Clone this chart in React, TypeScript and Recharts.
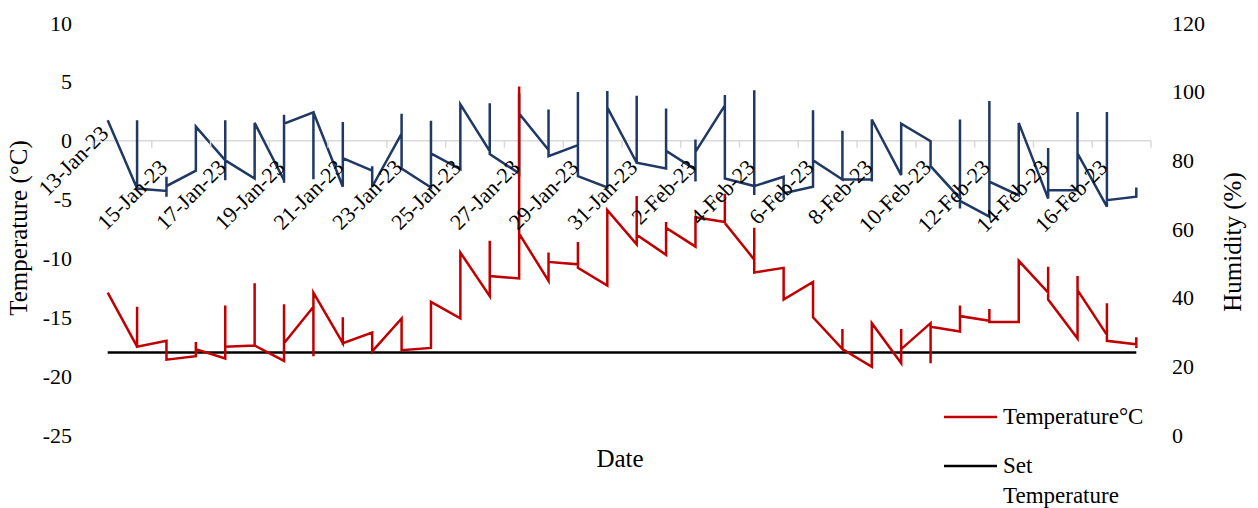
import React from 'react';
import { ComposedChart, Line, XAxis, YAxis, ReferenceLine, Legend } from 'recharts';

const FONT = "'Liberation Serif', 'Times New Roman', serif";

// Category labels (every second day, 13-Jan-23 = day index 0)
const dateLabels = [
  '13-Jan-23', '15-Jan-23', '17-Jan-23', '19-Jan-23', '21-Jan-23', '23-Jan-23',
  '25-Jan-23', '27-Jan-23', '29-Jan-23', '31-Jan-23', '2-Feb-23', '4-Feb-23',
  '6-Feb-23', '8-Feb-23', '10-Feb-23', '12-Feb-23', '14-Feb-23', '16-Feb-23',
];

// Temperature readings (°C) per day (13-Jan-23 .. 17-Feb-23), in reading order
const temperatureReadings: number[][] = [
  [-12.9],
  [-17.5, -14.1, -17.5],
  [-17.0, -18.6],
  [-18.3, -17.1, -17.7],
  [-18.5, -14.0, -17.5],
  [-17.4, -12.1, -17.4],
  [-18.7, -13.9, -17.2],
  [-14.1, -18.3, -12.9],
  [-17.2, -15.0, -17.2],
  [-16.3, -17.9],
  [-15.1, -17.8],
  [-17.6, -13.7],
  [-15.1, -9.5],
  [-13.2, -8.5, -11.5],
  [-11.7, 4.6, -7.9],
  [-11.9, -9.5, -10.3],
  [-10.5, -8.6, -10.8],
  [-12.3, -5.9],
  [-8.8, -4.7, -8.0],
  [-9.7, -6.9, -7.4],
  [-9.0, -6.5],
  [-6.9, -4.5, -7.0],
  [-10.1, -7.4, -11.2],
  [-10.8, -13.5],
  [-12.0, -15.0],
  [-17.7, -16.0, -17.7],
  [-19.2, -15.5],
  [-18.9, -16.0, -17.7],
  [-15.5, -18.9, -15.8],
  [-16.2, -14.0, -14.9],
  [-15.3, -14.3, -15.4],
  [-15.4, -10.2],
  [-12.9, -10.7, -13.5],
  [-16.8, -11.5, -12.7],
  [-16.5, -13.8, -17.0],
  [-17.3, -16.7, -17.6],
];

// Humidity readings (%) per day, in reading order
const humidityReadings: number[][] = [
  [91.7],
  [71.8, 91.7, 71.8],
  [71.1, 75.2, 69.4, 72.5],
  [77, 89.8],
  [80, 91.7, 74.2, 80],
  [74.7, 90.9],
  [74.2, 73.5, 93.3, 90.7],
  [94, 74.5, 94],
  [72.3, 91.2, 80.6],
  [77, 78.3, 72.3],
  [87.8, 93.6, 77.6],
  [72.1, 91.5, 82],
  [77.4, 96.3],
  [82.7, 96.6, 81.8],
  [76.2, 75.2, 99.5, 93.6],
  [83, 94.8, 81.2],
  [84.4, 99.9, 75.4],
  [72.1, 100.2, 95.4],
  [79.3, 98.8, 79.3],
  [77.6, 95.1, 82.8],
  [77.3, 86.1, 73.8, 82.5],
  [96, 99, 74.7],
  [72.5, 100.4, 69.9, 72.5],
  [75.2, 68.9, 70.4],
  [72.3, 94.6, 80],
  [74.4, 88.6, 74.4],
  [74.4, 73.8, 91.9],
  [75.7, 90.7],
  [85.6, 78.3],
  [68.9, 91.9, 66, 68.2],
  [63.6, 97.3, 73.8],
  [69.8, 90.9],
  [68.9, 83.6, 71.3],
  [71.3, 94.1, 82],
  [66.5, 94.1, 68.4],
  [69.4, 72.1],
];

const setTemperature = -18;
const temperatureTicks = [-25, -20, -15, -10, -5, 0, 5, 10];
const humidityTicks = [0, 20, 40, 60, 80, 100, 120];
const legendOrder = ['Temperature°C', 'Set Temperature'];

// ---- layout ----
const WIDTH = 1258;
const HEIGHT = 508;
const MARGIN_TOP = 23;
const LEFT_AXIS_W = 93;
const RIGHT_AXIS_W = 107;
const X_AXIS_H = 73;
const PLOT_LEFT = LEFT_AXIS_W;
const PLOT_RIGHT = WIDTH - RIGHT_AXIS_W;
const PLOT_TOP = MARGIN_TOP;
const PLOT_BOTTOM = HEIGHT - X_AXIS_H;

const T_MIN = temperatureTicks[0];
const T_MAX = temperatureTicks[temperatureTicks.length - 1];
const X_MIN = -0.5;
const X_MAX = temperatureReadings.length - 0.5;
const zeroY = PLOT_TOP + ((PLOT_BOTTOM - PLOT_TOP) * (T_MAX - 0)) / (T_MAX - T_MIN);
const dayPx = (PLOT_RIGHT - PLOT_LEFT) / (X_MAX - X_MIN);

const xBoundaries = dateLabels.map((_, i) => i * 2 + X_MIN).concat([X_MAX]);

const toPoints = (readings: number[][]) =>
  readings.flatMap((vals, day) => vals.map((value) => ({ day, value })));

const temperaturePoints = toPoints(temperatureReadings);
const humidityPoints = toPoints(humidityReadings);
const setPoints = temperatureReadings.map((_, day) => ({ day, value: setTemperature }));

const textStyle = { fontFamily: FONT };

const DateTick = (props: any) => {
  const { x, payload } = props;
  const idx = Math.round((payload.value - X_MIN) / 2);
  const label = payload.value < X_MAX ? dateLabels[idx] : undefined;
  const lx = x + dayPx / 2 + 2;
  // the first label sits higher, as in the original chart
  const ly = zeroY + (idx === 0 ? -6 : 28);
  return (
    <g>
      <line x1={x} x2={x} y1={zeroY} y2={zeroY + 7} stroke="#D9D9D9" strokeWidth={1.5} />
      {label && (
        <text
          x={lx}
          y={ly}
          textAnchor="end"
          transform={`rotate(-45 ${lx} ${ly})`}
          fontFamily={FONT}
          style={textStyle}
          fontSize={22}
          fill="#000"
        >
          {label}
        </text>
      )}
    </g>
  );
};

const NumTick = (props: any) => {
  const { x, y, payload, textAnchor } = props;
  return (
    <text
      x={x}
      y={y}
      textAnchor={textAnchor}
      dominantBaseline="central"
      fontFamily={FONT}
      style={textStyle}
      fontSize={22}
      fill="#000"
    >
      {payload.value}
    </text>
  );
};

const AxisTitle = (props: any) => {
  const { title, tx, ty, rot } = props;
  return (
    <text
      x={tx}
      y={ty}
      textAnchor="middle"
      dominantBaseline="central"
      transform={rot ? `rotate(${rot} ${tx} ${ty})` : undefined}
      fontFamily={FONT}
      style={textStyle}
      fontSize={25}
      fill="#000"
    >
      {title}
    </text>
  );
};

const renderLegend = (props: any) => {
  const items = [...(props.payload || [])]
    .filter((p: any) => legendOrder.includes(p.value))
    .sort((a: any, b: any) => legendOrder.indexOf(a.value) - legendOrder.indexOf(b.value));
  return (
    <div style={{ fontFamily: FONT, fontSize: 23, color: '#000' }}>
      {items.map((entry: any, i: number) => (
        <div
          key={entry.value}
          style={{ display: 'flex', alignItems: 'flex-start', marginTop: i ? 19 : 0 }}
        >
          <svg width={53} height={30} style={{ flex: 'none' }}>
            <line x1={0} x2={53} y1={15} y2={15} stroke={entry.color} strokeWidth={2.5} />
          </svg>
          <span style={{ marginLeft: 6, width: 148, lineHeight: '30px' }}>{entry.value}</span>
        </div>
      ))}
    </div>
  );
};

export default function App() {
  return (
    <div
      style={{
        position: 'absolute',
        left: 0,
        top: 0,
        width: WIDTH,
        height: HEIGHT,
        background: '#fff',
        fontFamily: FONT,
      }}
    >
      <ComposedChart
        width={WIDTH}
        height={HEIGHT}
        margin={{ top: MARGIN_TOP, right: 0, bottom: 0, left: 0 }}
        style={{ fontFamily: FONT }}
      >
        <XAxis
          dataKey="day"
          type="number"
          xAxisId="x"
          domain={[X_MIN, X_MAX]}
          ticks={xBoundaries}
          interval={0}
          allowDataOverflow
          height={X_AXIS_H}
          axisLine={false}
          tickLine={false}
          tick={DateTick}
          label={<AxisTitle title="Date" tx={(PLOT_LEFT + PLOT_RIGHT) / 2 - 2} ty={458} rot={0} />}
        />
        <YAxis
          yAxisId="temp"
          orientation="left"
          width={LEFT_AXIS_W}
          domain={[T_MIN, T_MAX]}
          ticks={temperatureTicks}
          interval={0}
          axisLine={false}
          tickLine={false}
          tickSize={0}
          tickMargin={21}
          tick={NumTick}
          label={<AxisTitle title="Temperature (°C)" tx={18} ty={228} rot={-90} />}
        />
        <YAxis
          yAxisId="hum"
          orientation="right"
          width={RIGHT_AXIS_W}
          domain={[0, 120]}
          ticks={humidityTicks}
          interval={0}
          axisLine={false}
          tickLine={false}
          tickSize={0}
          tickMargin={21}
          tick={NumTick}
          label={<AxisTitle title="Humidity (%)" tx={1232} ty={242} rot={-90} />}
        />
        <ReferenceLine xAxisId="x" yAxisId="temp" y={0} stroke="#D9D9D9" strokeWidth={1.5} />
        <Line
          xAxisId="x"
          yAxisId="hum"
          data={humidityPoints}
          dataKey="value"
          name="Humidity (%)"
          stroke="#1F3864"
          strokeWidth={2.5}
          dot={false}
          activeDot={false}
          legendType="none"
          isAnimationActive={false}
        />
        <Line
          xAxisId="x"
          yAxisId="temp"
          data={setPoints}
          dataKey="value"
          name="Set Temperature"
          stroke="#000000"
          strokeWidth={2.5}
          dot={false}
          activeDot={false}
          isAnimationActive={false}
        />
        <Line
          xAxisId="x"
          yAxisId="temp"
          data={temperaturePoints}
          dataKey="value"
          name="Temperature°C"
          stroke="#C00000"
          strokeWidth={2.5}
          dot={false}
          activeDot={false}
          isAnimationActive={false}
        />
        <Legend
          layout="horizontal"
          verticalAlign="middle"
          align="center"
          content={renderLegend}
          wrapperStyle={{ left: 944, top: 402, width: 260, height: 'auto' }}
        />
      </ComposedChart>
    </div>
  );
}
